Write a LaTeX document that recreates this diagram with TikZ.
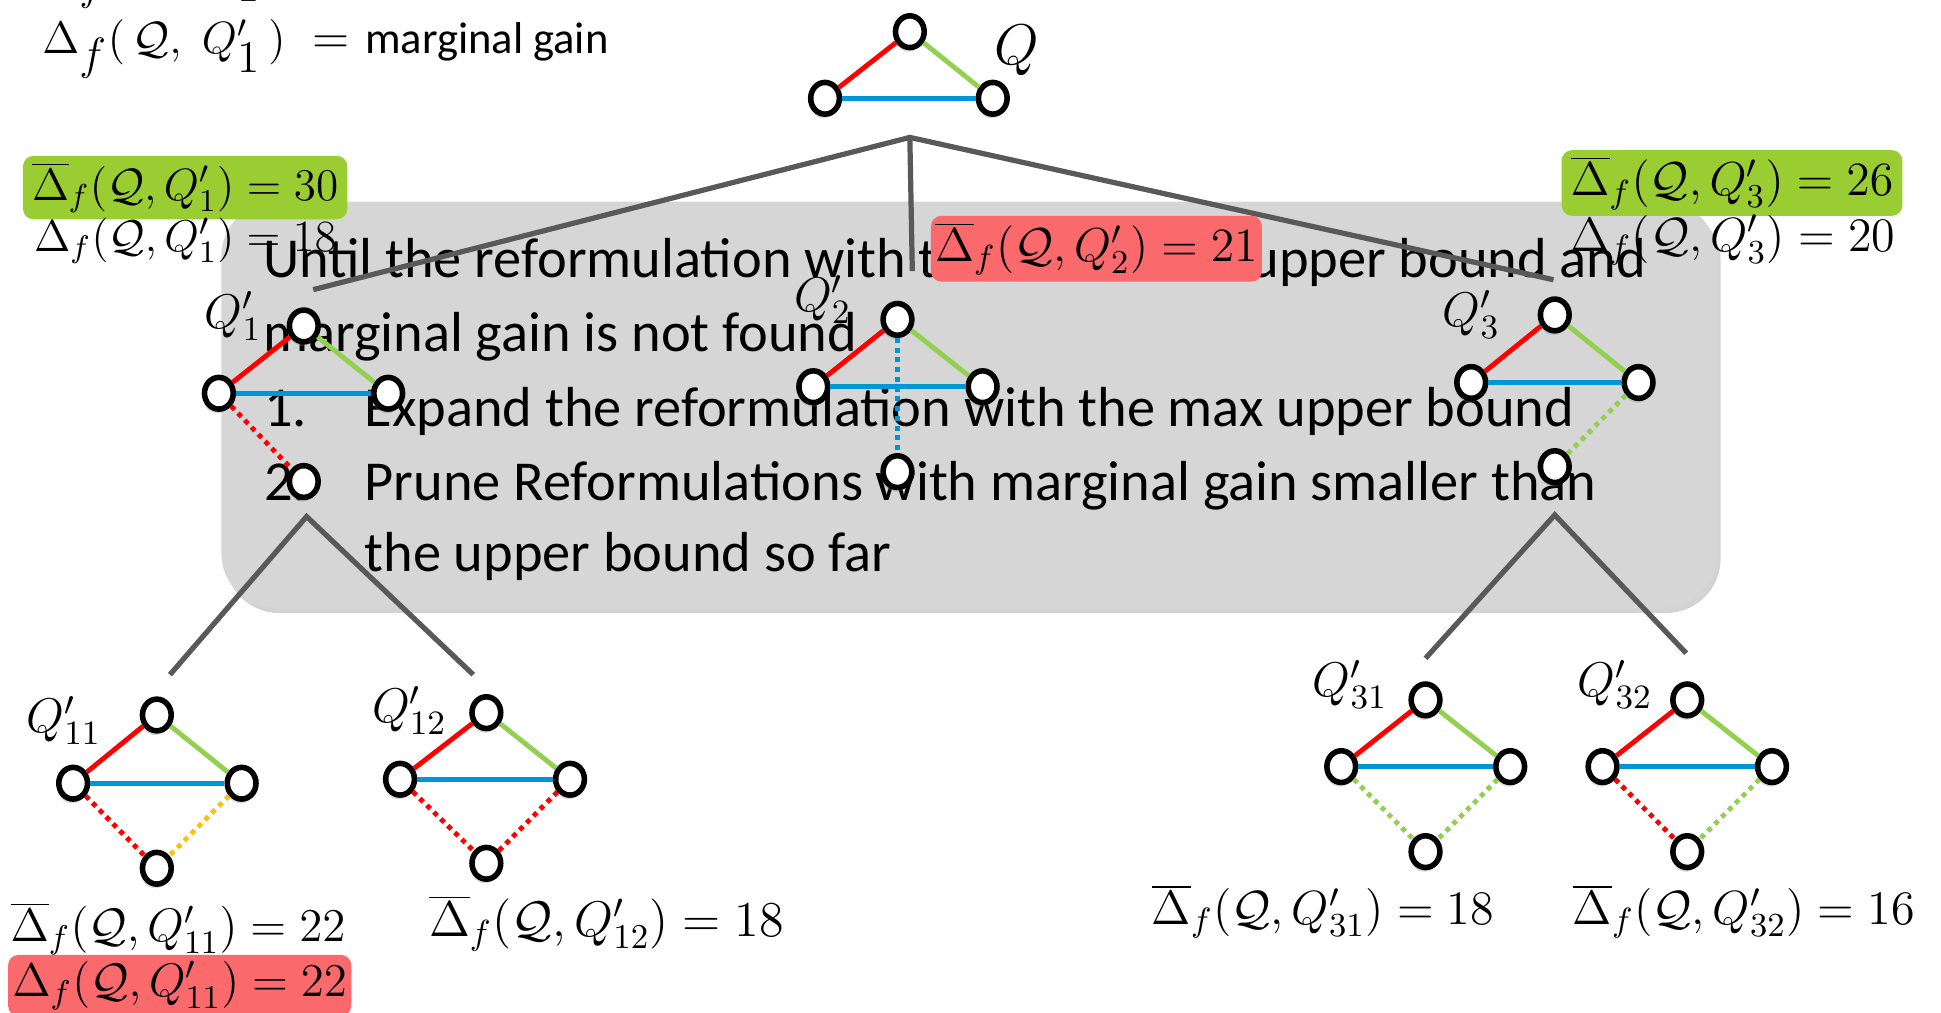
\RequirePackage{fix-cm}
\documentclass[tikz,border=0pt]{standalone}
\usepackage[no-math]{fontspec}
\newfontfamily\calfont{Carlito}
\usetikzlibrary{shapes.geometric}
\usetikzlibrary{shadows}
\definecolor{edgered}{RGB}{255,0,0}
\definecolor{edgegreen}{RGB}{146,208,80}
\definecolor{edgeblue}{RGB}{0,150,214}
\definecolor{edgeorange}{RGB}{255,192,0}
\definecolor{treegray}{RGB}{89,89,89}
\definecolor{panelgray}{RGB}{214,214,214}
\definecolor{boxgreen}{RGB}{154,205,50}
\definecolor{boxred}{RGB}{250,106,108}
\newcommand{\fsz}[1]{\fontsize{#1}{1.2\dimexpr #1pt\relax}\selectfont}
\tikzset{
  vtx/.style = {ellipse, draw, fill=white, line width=1.6pt, inner sep=0,
    minimum width=0.29cm, minimum height=0.32cm,
    drop shadow={opacity=0.3, shadow xshift=-0.4pt, shadow yshift=-1.2pt}},
  tree/.style = {draw=treegray, line width=1.5pt},
  redge/.style = {draw=edgered, line width=1.4pt},
  gedge/.style = {draw=edgegreen, line width=1.4pt},
  bedge/.style = {draw=edgeblue, line width=1.4pt},
  oedge/.style = {draw=edgeorange, line width=1.4pt},
  dots/.style = {dash pattern=on 1.4pt off 1.4pt},
  para/.style = {inner sep=0, anchor=base west, font=\calfont\fsz{16.2}},
  mlab/.style = {inner sep=0, anchor=base west, font=\fsz{13}},
  qname/.style = {inner sep=0, anchor=base west, font=\fsz{14}},
  greenbox/.style = {mlab, fill=boxgreen, rounded corners=3pt, inner xsep=2.6pt, inner ysep=1.8pt},
  redbox/.style = {mlab, fill=boxred, rounded corners=3pt, inner xsep=1.2pt, inner ysep=1.8pt},
  panel/.style = {fill=panelgray, rounded corners=0.55cm, minimum width=15.1cm, minimum height=4.1cm,
    drop shadow={opacity=0.35, shadow xshift=1pt, shadow yshift=-1.5pt}}
}
\begin{document}
\begin{tikzpicture}[x=0.0125cm, y=-0.0125cm]
    \useasboundingbox (0,0) rectangle (1568,818);
    % grey panel with the loop text
    \node[panel] (panel) at (783,327) {};
    \node[greenbox] (ub1) at (18,161.6) {$\overline{\Delta}_f(\mathcal{Q},Q'_1)=30$};
    \node[greenbox, font=\fsz{13.7}] (ub3) at (1261,158.3) {$\overline{\Delta}_f(\mathcal{Q},Q'_3)=26$};
    \node[para] (l1) at (212,224) {Until the reformulation with the maximum upper bound and};
    \node[para] (l2) at (212,284) {marginal gain is not found};
    \node[para] (l3) at (213,344.6) {\makebox[1.0125cm][l]{1.}Expand the reformulation with the max upper bound};
    \node[para] (l4) at (213,404) {\makebox[1.0125cm][l]{2.}Prune Reformulations with marginal gain smaller than};
    \node[para] (l5) at (294,462) {the upper bound so far};
    \node[mlab, font=\fsz{12.8}] (mg1) at (27,203) {$\Delta_f(\mathcal{Q},Q'_1)=18$};
    \node[mlab, font=\fsz{13.8}] (mg3) at (1268,203) {$\Delta_f(\mathcal{Q},Q'_3)=20$};
    % legend at the top
    \node[mlab] (hid) at (33.7,-13.4) {$\Delta_{\textstyle f}\big(\,\mathcal{Q},\;Q'_{\textstyle 1}\,\big)$};
    \node[mlab] (mgdef) at (33.7,43.6) {$\Delta_{\textstyle f}\big(\,\mathcal{Q},\;Q'_{\textstyle 1}\,\big)$};
    \node[mlab, font=\fsz{14}] (mgtxt) at (251.7,43.6) {$=$\ {\calfont\fsz{12.8}marginal gain}};
    % tree connectors
    \coordinate (rootj) at (735,111);
    \coordinate (q1in) at (253,234);
    \coordinate (q2in) at (737,219);
    \coordinate (q3in) at (1255,226);
    \coordinate (q1j) at (247.7,417.3);
    \coordinate (q11in) at (137.3,545);
    \coordinate (q12in) at (382.3,545);
    \coordinate (q3j) at (1256,416);
    \coordinate (q31in) at (1151.6,531.8);
    \coordinate (q32in) at (1362.2,527.7);
    \draw[tree] (q1in) -- (rootj) -- (q3in);
    \draw[tree] (rootj) -- (q2in);
    \draw[tree] (q11in) -- (q1j) -- (q12in);
    \draw[tree] (q31in) -- (q3j) -- (q32in);
    \node[redbox, font=\fsz{13.7}] (ub2) at (751.5,211.4) {$\overline{\Delta}_f(\mathcal{Q},Q'_2)=21$};
    % query graphs
    \foreach \n/\x/\y in {qt/735/25.6, ql/666.5/79.4, qr/802/79.4,
        q1t/245.4/263.3, q1l/176.8/317.7, q1r/313.6/317.7, q1b/245.4/389,
        q2t/725/258, q2l/657/312.4, q2r/793.8/312.4, q2b/725/381,
        q3t/1256/254.4, q3l/1188.5/309, q3r/1323.7/309, q3b/1256/377,
        q11t/126.7/577.6, q11l/59.1/632.7, q11r/195.2/632.7, q11b/126.7/701.4,
        q12t/392.9/575.7, q12l/323.2/629.5, q12r/460.5/629.5, q12b/392.9/697.4,
        q31t/1151.6/565.4, q31l/1083.5/619.3, q31r/1220/619.3, q31b/1151.6/688,
        q32t/1363/565.4, q32l/1294.6/619.3, q32r/1431.5/619.3, q32b/1363/688} {
        \node[vtx] (\n) at (\x,\y) {};
    }
    \foreach \g in {q, q1, q2, q3, q11, q12, q31, q32} {
        \draw[redge] (\g l) -- (\g t);
        \draw[gedge] (\g t) -- (\g r);
        \draw[bedge] (\g l) -- (\g r);
    }
    \draw[redge, dots] (q1l) -- (q1b);
    \draw[bedge, dots] (q2t) -- (q2b);
    \draw[gedge, dots] (q3r) -- (q3b);
    \draw[redge, dots] (q11l) -- (q11b);
    \draw[oedge, dots] (q11r) -- (q11b);
    \draw[redge, dots] (q12l) -- (q12b);
    \draw[redge, dots] (q12r) -- (q12b);
    \draw[gedge, dots] (q31l) -- (q31b);
    \draw[gedge, dots] (q31r) -- (q31b);
    \draw[redge, dots] (q32l) -- (q32b);
    \draw[gedge, dots] (q32r) -- (q32b);
    \node[font=\fsz{16.5}] (qname0) at (821,41) {$Q$};
    \node[qname] (qname1) at (165,265) {$Q'_1$};
    \node[qname] (qname2) at (641,252) {$Q'_2$};
    \node[qname] (qname3) at (1165,264) {$Q'_3$};
    \node[qname] (qname11) at (21,592) {$Q'_{11}$};
    \node[qname] (qname12) at (300,584) {$Q'_{12}$};
    \node[qname] (qname31) at (1060,563) {$Q'_{31}$};
    \node[qname] (qname32) at (1274,563) {$Q'_{32}$};
    % bounds under the leaves
    \node[mlab, font=\fsz{13.5}] (ub11) at (8,760.6) {$\overline{\Delta}_f(\mathcal{Q},Q'_{11})=22$};
    \node[redbox, font=\fsz{13.5}] (mg11) at (6,805) {$\Delta_f(\mathcal{Q},Q'_{11})=22$};
    \node[mlab, font=\fsz{14.4}] (ub12) at (346,756.6) {$\overline{\Delta}_f(\mathcal{Q},Q'_{12})=18$};
    \node[mlab, font=\fsz{13.8}] (ub31) at (930,747) {$\overline{\Delta}_f(\mathcal{Q},Q'_{31})=18$};
    \node[mlab, font=\fsz{13.8}] (ub32) at (1270,747) {$\overline{\Delta}_f(\mathcal{Q},Q'_{32})=16$};
  \end{tikzpicture}
\end{document}
